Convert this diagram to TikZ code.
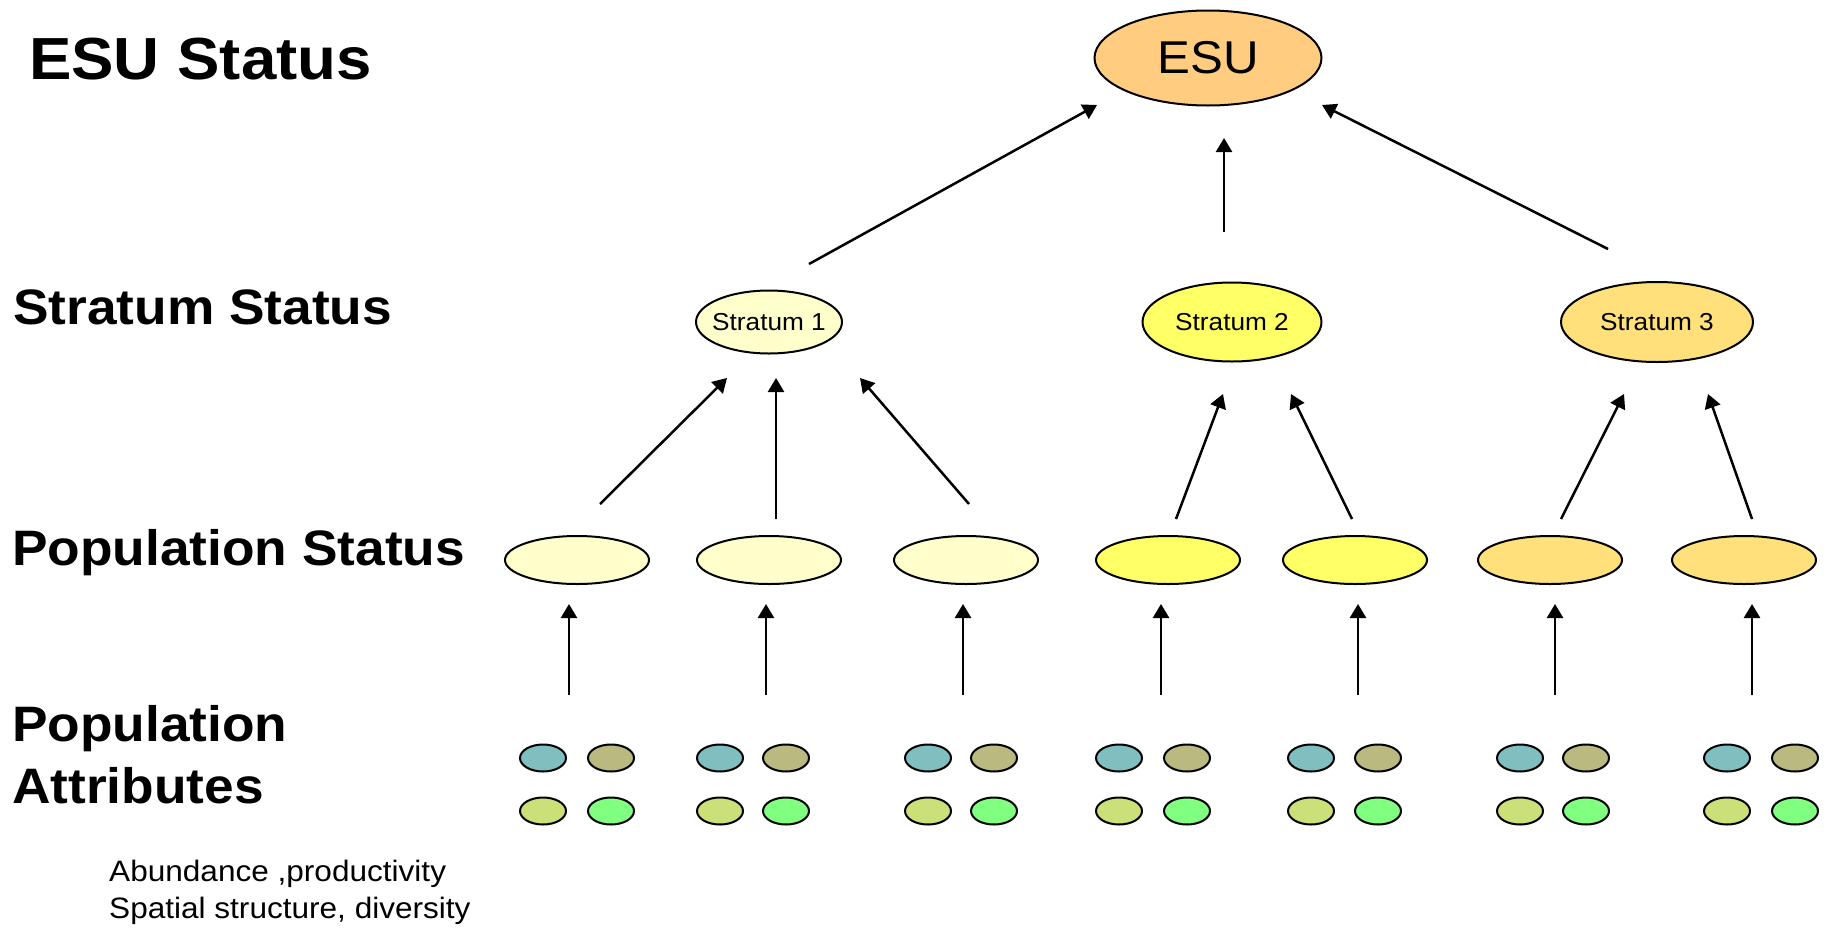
\documentclass[tikz,border=0pt]{standalone}
\usepackage{fontspec}
\setmainfont{Liberation Sans}[FakeStretch=1.07]
\usetikzlibrary{arrows.meta,shapes.geometric}
\definecolor{esuc}{RGB}{255,204,128}
\definecolor{paley}{RGB}{255,255,204}
\definecolor{midy}{RGB}{255,255,102}
\definecolor{goldy}{RGB}{255,224,122}
\definecolor{atA}{RGB}{128,191,191}
\definecolor{atB}{RGB}{186,186,128}
\definecolor{atC}{RGB}{204,224,122}
\definecolor{atD}{RGB}{128,255,128}
\tikzset{
  ell/.style={ellipse, draw=black, line width=2pt, inner sep=0pt},
  popell/.style={ell, minimum width=144pt, minimum height=48pt},
  attr/.style={ell, minimum width=46pt, minimum height=27pt},
  strat/.style={ell, label={[font=\fontsize{24.5}{28}\selectfont]center:#1}},
  conn/.style={line width=2.5pt, -{Triangle[length=14pt,width=16pt]}},
  bigl/.style={anchor=base west, inner sep=0pt, font=\bfseries\fontsize{49.8}{62}\selectfont, align=left},
}
\begin{document}
\begin{tikzpicture}[x=1pt,y=-1pt]
\useasboundingbox (0,0) rectangle (1839,927);
% left labels
\node[bigl, font=\bfseries\fontsize{59.4}{66}\selectfont] (lesu) at (29,79) {ESU Status};
\node[bigl] (lstr) at (13,324) {Stratum Status};
\node[bigl] (lpop) at (12,565) {Population Status};
\node[bigl] (latt) at (12,803) {Population\\Attributes};
\node[anchor=base west, inner sep=0pt, align=left, font=\fontsize{29.5}{37.5}\selectfont] (lnote) at (109,918.5) {Abundance ,productivity\\Spatial structure, diversity};
% ESU
\node[ell, fill=esuc, minimum width=227pt, minimum height=95pt, font=\fontsize{46}{50}\selectfont] (esu) at (1208,58) {ESU};
% strata
\node[strat={Stratum 1}, fill=paley, minimum width=146pt, minimum height=63pt] (s1) at (769,322) {};
\node[strat={Stratum 2}, fill=midy, minimum width=179pt, minimum height=79pt] (s2) at (1232,322) {};
\node[strat={Stratum 3}, fill=goldy, minimum width=192pt, minimum height=80pt] (s3) at (1657,322) {};
% populations
\node[popell, fill=paley] (p1) at (577,560) {};
\node[popell, fill=paley] (p2) at (769,560) {};
\node[popell, fill=paley] (p3) at (966,560) {};
\node[popell, fill=midy] (p4) at (1168,560) {};
\node[popell, fill=midy] (p5) at (1355,560) {};
\node[popell, fill=goldy] (p6) at (1550,560) {};
\node[popell, fill=goldy] (p7) at (1744,560) {};
% attributes
\foreach \i/\xa/\xb in {1/543/611, 2/720/786, 3/928/994, 4/1119/1187, 5/1311/1378, 6/1520/1586, 7/1727/1795}{
  \node[attr, fill=atA] (a\i a) at (\xa,758) {};
  \node[attr, fill=atB] (a\i b) at (\xb,758) {};
  \node[attr, fill=atC] (a\i c) at (\xa,811) {};
  \node[attr, fill=atD] (a\i d) at (\xb,811) {};
}
% ESU connectors
\coordinate (e1s) at (809,264); \coordinate (e1t) at (1097,105);
\coordinate (e2s) at (1224,232); \coordinate (e2t) at (1224,138);
\coordinate (e3s) at (1608,249); \coordinate (e3t) at (1322,105);
\draw[conn] (e1s) -- (e1t);
\draw[conn] (e2s) -- (e2t);
\draw[conn] (e3s) -- (e3t);
% stratum connectors
\foreach \n/\xs/\ys/\xt/\yt in {1/600/504/727/378, 2/776/519/776/378, 3/969/504/860/378, 4/1176/519/1223/394, 5/1352/519/1291/394, 6/1561/519/1624/394, 7/1752/519/1708/394}{
  \coordinate (ss\n) at (\xs,\ys); \coordinate (st\n) at (\xt,\yt);
  \draw[conn] (ss\n) -- (st\n);
}
% population connectors
\foreach \n/\xx in {1/569, 2/766, 3/963, 4/1161, 5/1358, 6/1555, 7/1752}{
  \coordinate (ps\n) at (\xx,695); \coordinate (pt\n) at (\xx,604);
  \draw[conn] (ps\n) -- (pt\n);
}
\end{tikzpicture}
\end{document}
